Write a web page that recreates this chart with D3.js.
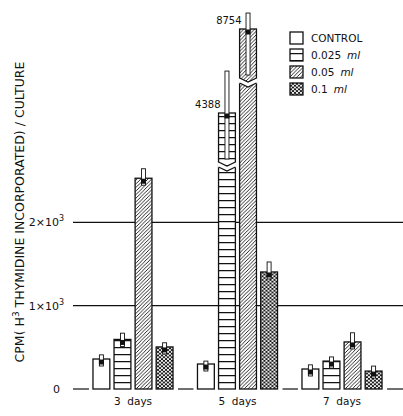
<!DOCTYPE html>
<html>
<head>
<script src="https://cdn.jsdelivr.net/npm/d3@7"></script>
<style>
body { margin: 0; background: #fff; }
text { font-family: "DejaVu Sans", sans-serif; fill: #111; }
.bar { stroke: #111; stroke-width: 1.3; }
.grid { stroke: #111; stroke-width: 1.2; }
</style>
</head>
<body>
<div id="chart"></div>
<script>

// data
var days = ["3 days", "5 days", "7 days"];
var series = ["CONTROL", "0.025", "0.05", "0.1"];
var control = [360, 300, 240];
var ml025 = [595, 4388, 335];
var ml05 = [2530, 8754, 565];
var ml1 = [505, 1405, 215];
var errControl = [50, 35, 50];
var err025 = [75, 2180, 50];
var err05 = [180, 830, 110];
var err1 = [50, 120, 60];
var yTicks = [0, 1000, 2000];
var tickBase = ["0", "1×10", "2×10"];
var tickExp = ["", "3", "3"];

var values = [control, ml025, ml05, ml1],
    errors = [errControl, err025, err05, err1],
    fills = ["#fff", "url(#hstripe)", "url(#diag)", "url(#mesh)"];

var w = 403, h = 416;

var svg = d3.select("#chart").append("svg")
    .attr("width", w)
    .attr("height", h);

svg.append("rect").attr("width", w).attr("height", h).attr("fill", "#fff");

// patterns
var defs = svg.append("defs");
var p1 = defs.append("pattern").attr("id", "hstripe")
    .attr("patternUnits", "userSpaceOnUse").attr("width", 4).attr("height", 7)
    .attr("patternTransform", "translate(0,4)");
p1.append("rect").attr("width", 4).attr("height", 7).attr("fill", "#fff");
p1.append("line").attr("x1", 0).attr("x2", 4).attr("y1", 0.6).attr("y2", 0.6)
    .attr("stroke", "#111").attr("stroke-width", 1.3);

var p2 = defs.append("pattern").attr("id", "diag")
    .attr("patternUnits", "userSpaceOnUse").attr("width", 3.6).attr("height", 3.6);
p2.append("rect").attr("width", 3.6).attr("height", 3.6).attr("fill", "#fff");
p2.append("path").attr("d", "M-1,1 L1,-1 M0,3.6 L3.6,0 M2.6,4.6 L4.6,2.6")
    .attr("stroke", "#111").attr("stroke-width", 0.9);

var p3 = defs.append("pattern").attr("id", "mesh")
    .attr("patternUnits", "userSpaceOnUse").attr("width", 4).attr("height", 3.6);
p3.append("rect").attr("width", 4).attr("height", 3.6).attr("fill", "#111");
p3.selectAll("circle").data([[1, 0.9], [3, 2.7], [-1, 2.7], [5, 0.9]]).join("circle")
    .attr("cx", function(d) { return d[0]; })
    .attr("cy", function(d) { return d[1]; })
    .attr("r", 1.05).attr("fill", "#fff");

// scales
var axisBreak = 2600;
var y = d3.scaleLinear()
    .domain([0, 2000, axisBreak, 4388, 8754])
    .range([389, 222.4, 172.4, 113, 29]);

var x0 = d3.scaleBand().domain(days)
    .range([80.75, 394.25])
    .paddingInner(0.234)
    .paddingOuter(0.117);

var x1 = d3.scaleBand().domain(series)
    .range([0, x0.bandwidth()])
    .paddingInner(0.2);

// grid lines
svg.selectAll("line.grid").data(yTicks.filter(function(d) { return d > 0; }))
  .enter().append("line")
    .attr("class", "grid")
    .attr("x1", 73).attr("x2", w)
    .attr("y1", function(d) { return y(d); })
    .attr("y2", function(d) { return y(d); });

// baseline pieces between the groups
var gaps = [[73, x0(days[0]) - 4]];
days.forEach(function(d, i) {
  var end = x0(d) + x0.bandwidth() + 5;
  gaps.push([end, i < days.length - 1 ? x0(days[i + 1]) - 4 : w]);
});
svg.selectAll("line.base").data(gaps)
  .enter().append("line")
    .attr("class", "grid")
    .attr("x1", function(d) { return d[0]; })
    .attr("x2", function(d) { return d[1]; })
    .attr("y1", y(0)).attr("y2", y(0));

// tick labels
var tl = svg.selectAll("text.tick").data(yTicks)
  .enter().append("text")
    .attr("class", "tick")
    .attr("x", function(d, i) { return i === 0 ? 60 : 64; })
    .attr("y", function(d) { return y(d) + 4; })
    .attr("text-anchor", "end")
    .style("font-size", "11px");
tl.append("tspan").text(function(d, i) { return tickBase[i]; });
tl.append("tspan").attr("dy", -5).style("font-size", "8px")
    .text(function(d, i) { return tickExp[i]; });

// bars
var group = svg.selectAll("g.day").data(days)
  .enter().append("g")
    .attr("class", "day")
    .attr("transform", function(d) { return "translate(" + x0(d) + ",0)"; });

group.each(function(day, i) {
  var g = d3.select(this);
  var bw = x1.bandwidth();
  var bars = series.map(function(s, j) {
    return {s: s, j: j, v: values[j][i], e: errors[j][i]};
  });

  bars.forEach(function(b) {
    var bx = x1(b.s), top = y(b.v), mid = bx + bw / 2;
    var broken = b.v > axisBreak;

    g.append("rect")
        .attr("class", "bar")
        .attr("x", bx).attr("y", top)
        .attr("width", bw).attr("height", y(0) - top)
        .attr("fill", fills[b.j]);

    if (broken) {
      var by = top + 49;
      g.append("path")
          .attr("d", "M" + (bx - 1) + "," + by + " L" + mid + "," + (by + 4) +
               " L" + (bx + bw + 1) + "," + by + " L" + (bx + bw + 1) + "," + (by + 5) +
               " L" + mid + "," + (by + 9) + " L" + (bx - 1) + "," + (by + 5) + "Z")
          .attr("fill", "#fff");
      g.append("path")
          .attr("d", "M" + bx + "," + by + " L" + mid + "," + (by + 4) + " L" + (bx + bw) + "," + by +
               " M" + bx + "," + (by + 5) + " L" + mid + "," + (by + 9) + " L" + (bx + bw) + "," + (by + 5))
          .attr("fill", "none").attr("stroke", "#111").attr("stroke-width", 1.2);

      g.append("text")
          .attr("x", bx + 2).attr("y", top - 5)
          .attr("text-anchor", "end")
          .style("font-size", "10px")
          .text(b.v);
    }

    // error bar: hollow stem above the top, dark plug just under it
    var stemBottom = broken ? top + 46 : top + 7;
    g.append("rect")
        .attr("x", mid - 2).attr("y", y(b.v + b.e))
        .attr("width", 4).attr("height", stemBottom - y(b.v + b.e))
        .attr("fill", "#fff").attr("stroke", "#111").attr("stroke-width", 0.9);
    g.append("rect")
        .attr("x", mid - 2.5).attr("y", top + 0.5)
        .attr("width", 5).attr("height", 5)
        .attr("fill", "#111");
  });

  g.append("text")
      .attr("x", x0.bandwidth() / 2).attr("y", 405)
      .attr("text-anchor", "middle")
      .style("font-size", "10.5px")
      .style("white-space", "pre")
      .text(day.replace(" ", "  "));
});

// legend
var legend = svg.selectAll("g.legend").data(series)
  .enter().append("g")
    .attr("class", "legend")
    .attr("transform", function(d, i) { return "translate(290," + (32 + i * 17) + ")"; });

legend.append("rect")
    .attr("class", "bar")
    .attr("width", 13).attr("height", 12)
    .attr("fill", function(d, i) { return fills[i]; });

var lt = legend.append("text")
    .attr("x", 21).attr("y", 10)
    .style("font-size", "10.5px");
lt.append("tspan").text(function(d) { return d; });
lt.append("tspan").attr("dx", 6).style("font-style", "italic")
    .text(function(d, i) { return i === 0 ? "" : "ml"; });

// y title
var title = svg.append("text")
    .attr("transform", "translate(24,212) rotate(-90)")
    .attr("text-anchor", "middle")
    .style("font-size", "12.5px");
title.append("tspan").text("CPM( H");
title.append("tspan").attr("dy", -5).style("font-size", "9px").text("3");
title.append("tspan").attr("dy", 5).text(" THYMIDINE INCORPORATED) / CULTURE");

</script>
</body>
</html>
